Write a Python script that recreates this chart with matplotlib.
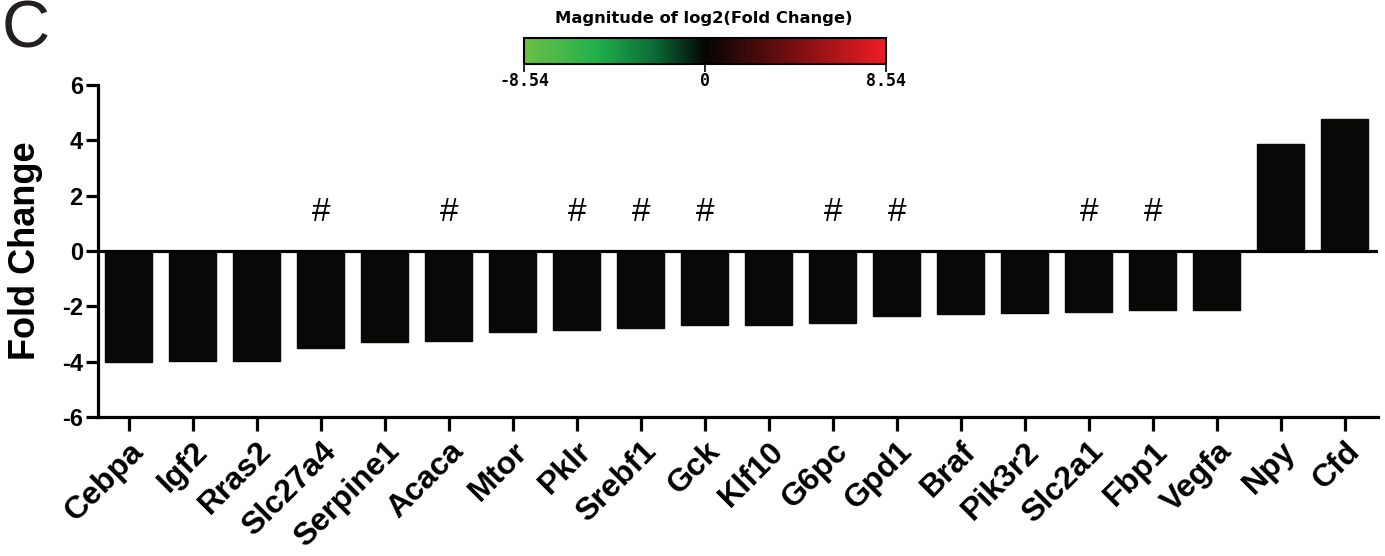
import matplotlib
matplotlib.use('Agg')
import matplotlib.pyplot as plt
import numpy as np
from matplotlib.colors import LinearSegmentedColormap, Normalize
from matplotlib.cm import ScalarMappable

genes = ['Cebpa', 'Igf2', 'Rras2', 'Slc27a4', 'Serpine1', 'Acaca', 'Mtor', 'Pklr',
         'Srebf1', 'Gck', 'Klf10', 'G6pc', 'Gpd1', 'Braf', 'Pik3r2', 'Slc2a1',
         'Fbp1', 'Vegfa', 'Npy', 'Cfd']
fold_change = [-4.00, -3.97, -3.97, -3.52, -3.29, -3.24, -2.92, -2.84,
               -2.80, -2.69, -2.69, -2.61, -2.36, -2.27, -2.23, -2.19,
               -2.12, -2.12, 3.87, 4.77]
# genes marked with '#'
marked = ['Slc27a4', 'Acaca', 'Pklr', 'Srebf1', 'Gck', 'G6pc', 'Gpd1', 'Slc2a1', 'Fbp1']
cbar_lim = 8.54
cbar_ticks = [-8.54, 0, 8.54]
cbar_ticklabels = ['-8.54', '0', '8.54']

bold = {'family': 'Liberation Sans', 'weight': 'bold'}

fig = plt.figure(figsize=(13.85, 5.56), dpi=100)
ax = fig.add_axes([0.0708, 0.25, 0.9242, 0.597])

x = np.arange(len(genes))
ax.bar(x, fold_change, width=0.73, color='#080806', edgecolor='#080806', linewidth=1.0, zorder=2)
ax.axhline(0, color='black', lw=2.3, zorder=3)

for i, g in enumerate(genes):
    if g in marked:
        ax.text(i, 1.40, '#', ha='center', va='center', fontsize=24,
                family='Liberation Sans')

ax.set_xlim(-0.48, 19.52)
ax.set_ylim(-6, 6)
ax.set_yticks([-6, -4, -2, 0, 2, 4, 6])
ax.set_yticklabels(['-6', '-4', '-2', '0', '2', '4', '6'], fontdict=bold, fontsize=17)
ax.set_xticks(x)
ax.set_xticklabels(genes, fontdict=bold, fontsize=23, rotation=45,
                   ha='right', rotation_mode='anchor')
ax.set_ylabel('Fold Change', fontdict=bold, fontsize=26)
ax.yaxis.set_label_coords(-0.043, 0.5)

for s in ['top', 'right']:
    ax.spines[s].set_visible(False)
for s in ['left', 'bottom']:
    ax.spines[s].set_linewidth(2.3)
ax.tick_params(axis='y', length=9, width=2.3, pad=2)
ax.tick_params(axis='x', length=10, width=2.3, pad=4)

# colour key
cmap = LinearSegmentedColormap.from_list('gr', [
    (0.0, '#6cbf47'), (0.2, '#22b04b'), (0.36, '#0b6b37'), (0.5, '#050505'),
    (0.7, '#620c0c'), (1.0, '#ee1d25')])
cax = fig.add_axes([524 / 1385, 1 - 64 / 556, 362 / 1385, 26 / 556])
sm = ScalarMappable(norm=Normalize(-cbar_lim, cbar_lim), cmap=cmap)
cb = fig.colorbar(sm, cax=cax, orientation='horizontal')
cb.set_ticks(cbar_ticks)
cb.set_ticklabels(cbar_ticklabels)
cb.outline.set_linewidth(1.5)
cax.tick_params(length=6, width=1.2, pad=0, labelsize=12)
for t in cax.get_xticklabels():
    t.set_family('DejaVu Sans Mono')
    t.set_weight('bold')
fig.text(704 / 1385, 1 - 19 / 556, 'Magnitude of log2(Fold Change)', ha='center', va='center',
         fontsize=11.8, weight='bold', family='DejaVu Sans')

fig.text(0.001, 1.0, 'C', ha='left', va='top', fontsize=48, family='Liberation Sans',
         color='#231f20')

fig.savefig('out.png', dpi=100)
